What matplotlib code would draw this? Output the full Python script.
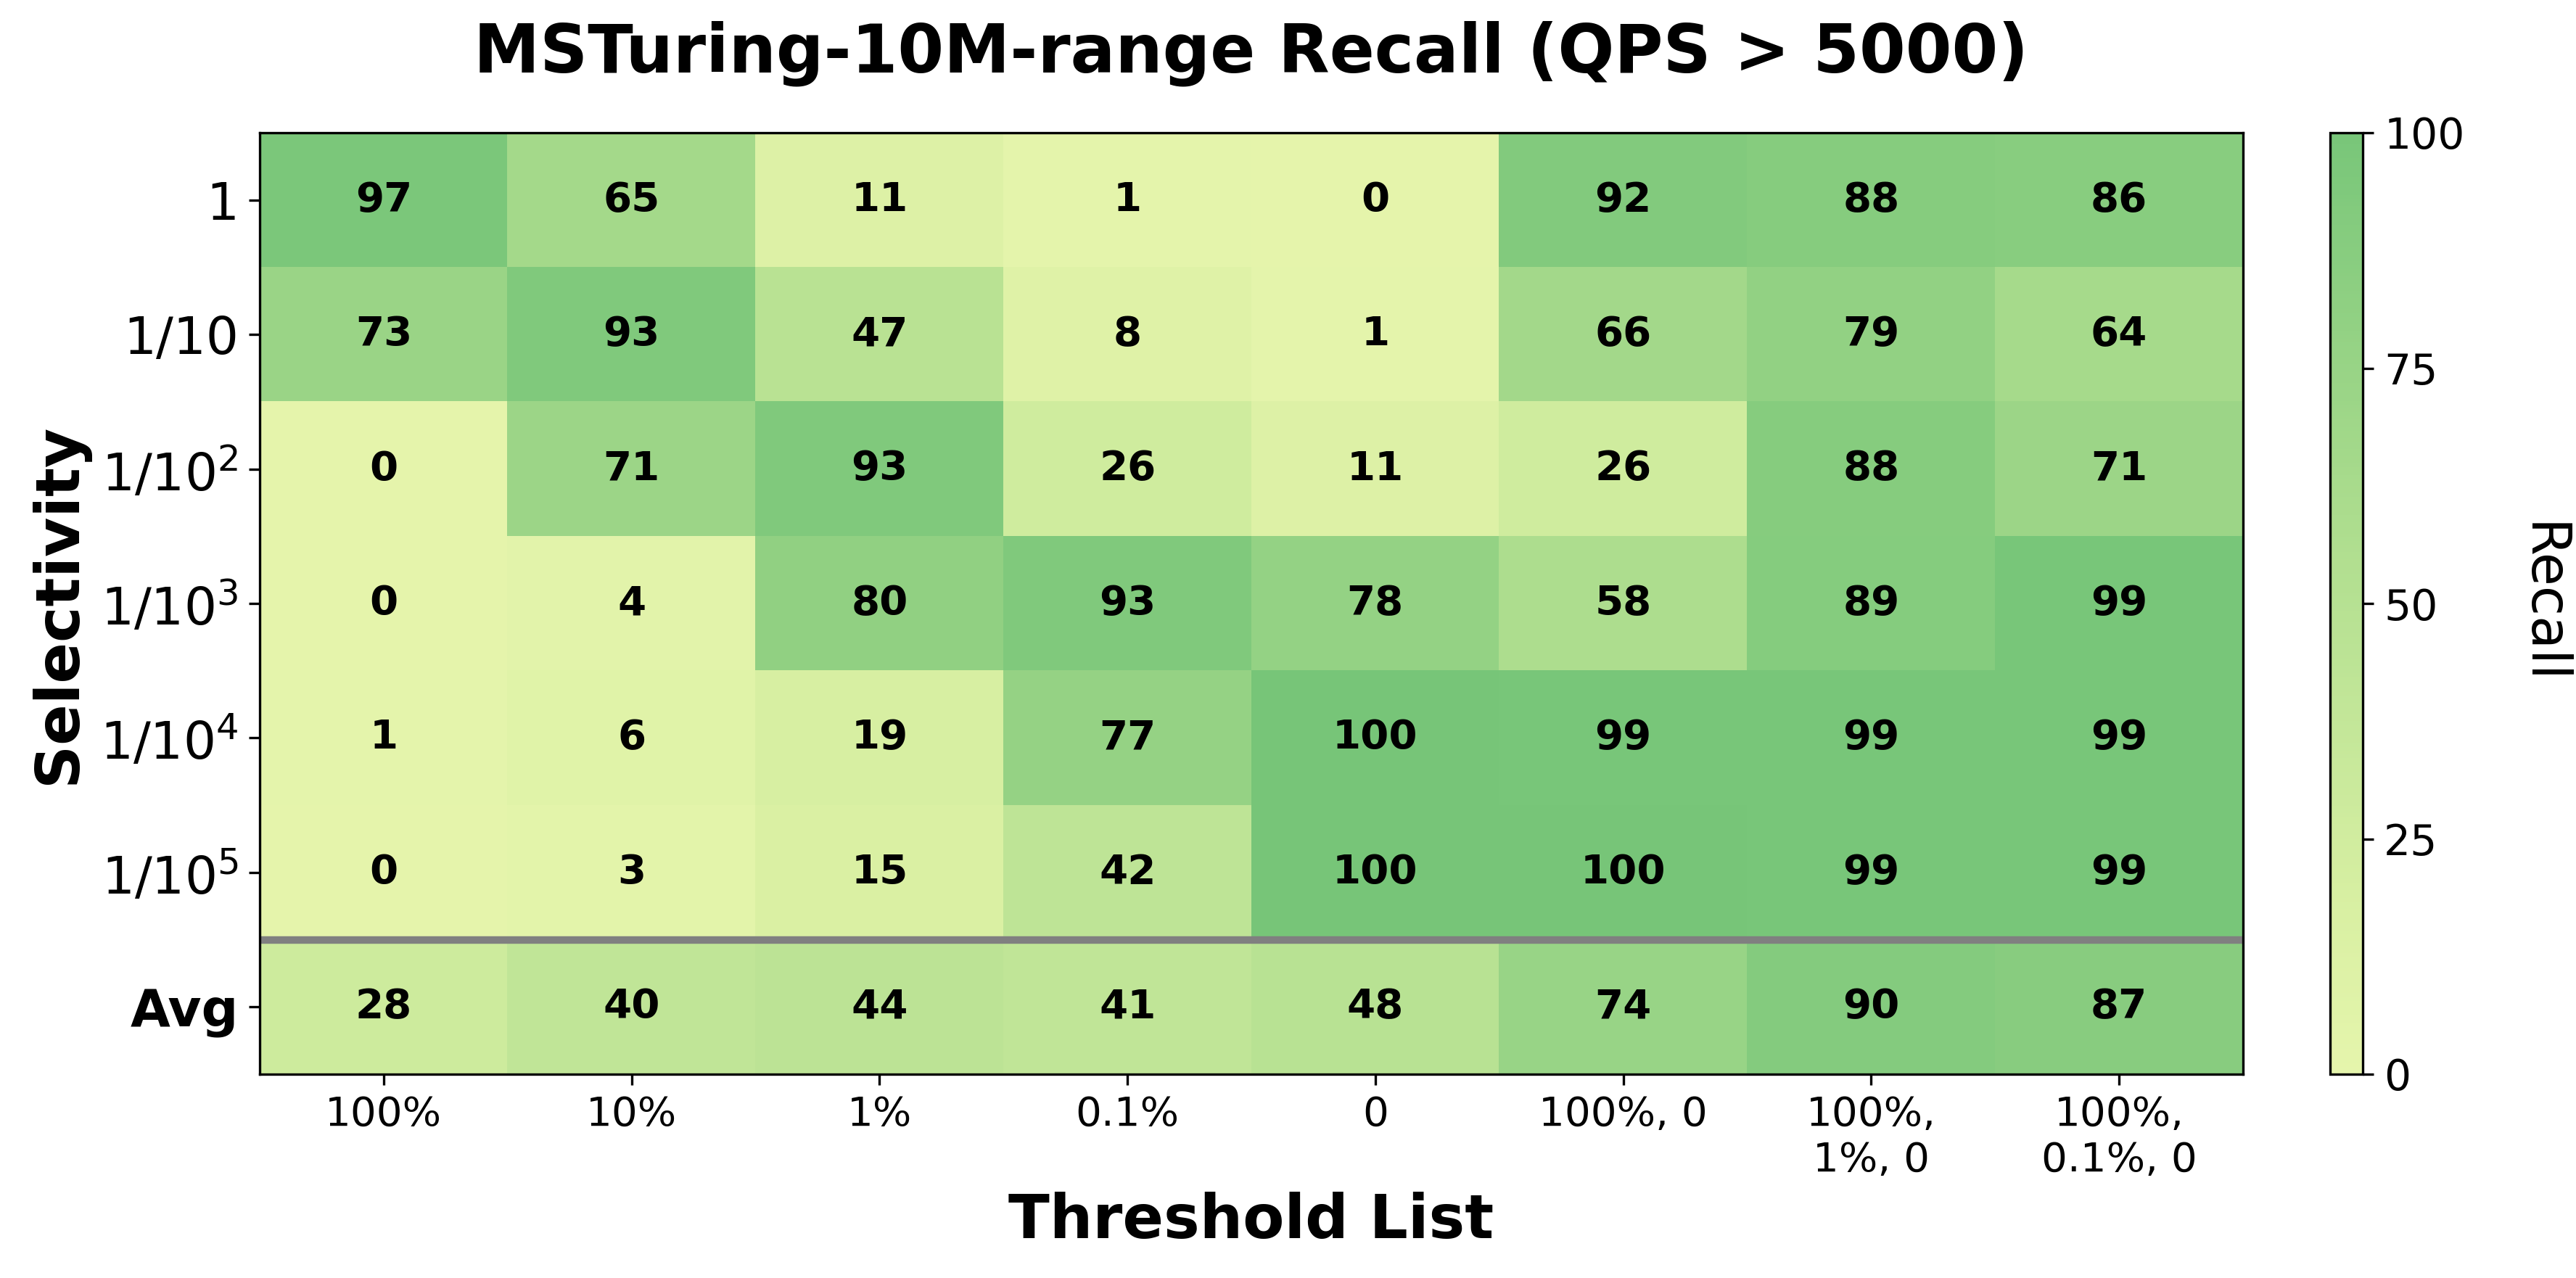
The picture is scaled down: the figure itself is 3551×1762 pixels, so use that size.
import numpy as np
import matplotlib
matplotlib.use("Agg")
import matplotlib.pyplot as plt
from matplotlib.colors import LinearSegmentedColormap

thresholds = ["100%", "10%", "1%", "0.1%", "0", "100%, 0", "100%,\n1%, 0", "100%,\n0.1%, 0"]
selectivity = ["1", "1/10", "$1/10^2$", "$1/10^3$", "$1/10^4$", "$1/10^5$", "Avg"]

recall_1 = [97, 65, 11, 1, 0, 92, 88, 86]
recall_1e1 = [73, 93, 47, 8, 1, 66, 79, 64]
recall_1e2 = [0, 71, 93, 26, 11, 26, 88, 71]
recall_1e3 = [0, 4, 80, 93, 78, 58, 89, 99]
recall_1e4 = [1, 6, 19, 77, 100, 99, 99, 99]
recall_1e5 = [0, 3, 15, 42, 100, 100, 99, 99]
recall_avg = [28, 40, 44, 41, 48, 74, 90, 87]

data = np.array([recall_1, recall_1e1, recall_1e2, recall_1e3, recall_1e4, recall_1e5, recall_avg])

base = plt.get_cmap("YlGn")
cmap = LinearSegmentedColormap.from_list("ylgn_cut", [base(x) for x in np.linspace(0.2, 0.5, 64)])

fig = plt.figure(figsize=(3551 / 300, 1762 / 300), dpi=300)
ax = fig.add_axes([358 / 3551, 1 - 1481 / 1762, (3092 - 358) / 3551, (1481 - 183) / 1762])
cax = fig.add_axes([3212 / 3551, 1 - 1481 / 1762, (3257 - 3212) / 3551, (1481 - 183) / 1762])

im = ax.imshow(data, cmap=cmap, vmin=0, vmax=100, aspect="auto")

for i in range(data.shape[0]):
    for j in range(data.shape[1]):
        ax.text(j, i, f"{data[i, j]:.0f}", ha="center", va="center",
                fontsize=13.5, fontweight="bold", color="black")

ax.axhline(len(selectivity) - 1.5, color="gray", lw=2.5)

ax.set_xticks(range(len(thresholds)))
ax.set_xticklabels(thresholds, fontsize=13.5)
ax.set_yticks(range(len(selectivity)))
ax.set_yticklabels(selectivity, fontsize=17)
ax.get_yticklabels()[-1].set_fontweight("bold")
ax.set_xlabel("Threshold List", fontsize=20, fontweight="bold")
ax.set_ylabel("Selectivity", fontsize=20, fontweight="bold")
ax.set_title("MSTuring-10M-range Recall (QPS > 5000)", fontsize=22, fontweight="bold", pad=20)

cb = fig.colorbar(im, cax=cax)
cb.set_ticks([0, 25, 50, 75, 100])
cb.ax.tick_params(labelsize=14)
cb.set_label("Recall", fontsize=18, rotation=270, labelpad=34)

fig.savefig("out.png", dpi=300)
